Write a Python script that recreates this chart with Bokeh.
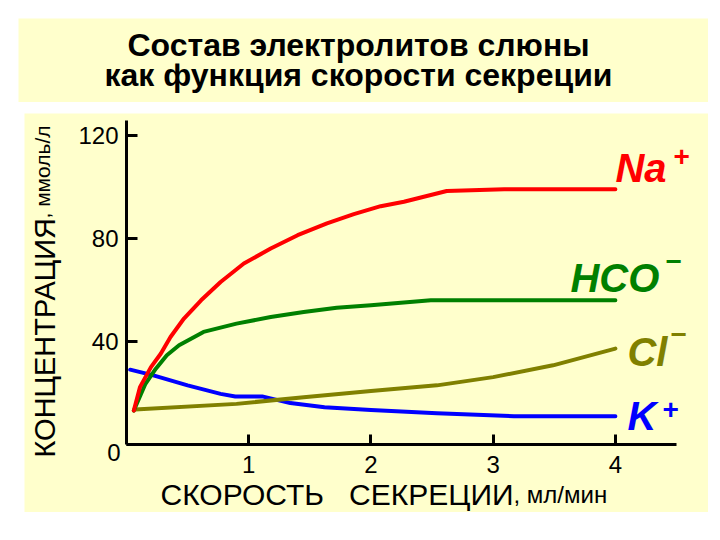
from math import pi
from bokeh.plotting import figure
from bokeh.models import Label, Range1d, FixedTicker, LinearAxis
from bokeh.layouts import column
from bokeh.embed import file_html
from bokeh.resources import INLINE

# ---- data ----
title_lines = ["Состав электролитов слюны", "как функция скорости секреции"]
y_label_main = "КОНЦЕНТРАЦИЯ"
y_label_unit = ", ммоль/л"
x_label_main = "СКОРОСТЬ\u00a0\u00a0\u00a0СЕКРЕЦИИ"
x_label_unit = ", мл/мин"
x_ticks = [1, 2, 3, 4]
y_ticks = [0, 40, 80, 120]

na_x = [0.06, 0.11, 0.20, 0.28, 0.36, 0.47, 0.61, 0.77, 0.96, 1.18, 1.40, 1.64, 1.86, 2.08, 2.27, 2.62, 3.09, 4.0]
na_y = [13.2, 22.3, 30.1, 35.3, 41.8, 49.0, 56.1, 63.2, 70.4, 76.2, 81.4, 86.0, 89.6, 92.7, 94.4, 98.6, 99.3, 99.3]

hco_x = [0.06, 0.155, 0.24, 0.33, 0.43, 0.63, 0.90, 1.18, 1.45, 1.72, 2.0, 2.49, 4.0]
hco_y = [13.2, 23.6, 29.5, 34.7, 38.6, 43.8, 47.0, 49.6, 51.5, 53.2, 54.2, 56.1, 56.1]

cl_x = [0.07, 0.90, 1.45, 2.0, 2.54, 3.0, 3.49, 4.0]
cl_y = [13.6, 15.8, 18.4, 20.8, 23.0, 26.2, 30.8, 37.3]

k_x = [0.03, 0.22, 0.50, 0.77, 0.89, 1.11, 1.34, 1.62, 2.0, 2.54, 3.17, 4.0]
k_y = [29.1, 26.9, 23.0, 19.7, 18.7, 18.7, 16.1, 14.5, 13.4, 12.2, 11.0, 11.0]

ion_names = ["Na", "HCO", "Cl", "K"]
ion_charges = ["+", "\u2212", "\u2212", "+"]

# ---- styles ----
YELLOW = "#FFFFCC"
FONT = "Liberation Sans"
colors = {"Na": "#FF0000", "HCO": "#008000", "Cl": "#808000", "K": "#0000FF"}
# label offsets (px) relative to the last point of each curve: (name dx, dy, charge dx, dy)
label_offsets = {
    "Na": (0, 21, 58, 33),
    "HCO": (-45, 22, 50, 39),
    "Cl": (12, -3, 55, 14),
    "K": (12, 0, 47, 7),
}

# ---- title panel ----
t = figure(width=690, height=84, x_range=Range1d(0, 690), y_range=Range1d(0, 84),
           x_axis_type=None, y_axis_type=None, toolbar_location=None,
           output_backend="svg", title=None, min_border=0,
           background_fill_color=YELLOW, border_fill_color=YELLOW,
           outline_line_color=None, margin=(18, 0, 0, 18))
for line, yy in zip(title_lines, [58, 28]):
    t.add_layout(Label(x=340, y=yy, text=line, text_align="center",
                       text_baseline="alphabetic", text_font=FONT,
                       text_font_style="bold", text_font_size="32px",
                       text_color="black"))

# ---- chart: frame covers the whole yellow box, axes fixed at the origin ----
p = figure(width=684, height=399, x_range=Range1d(-0.8346, 4.7619),
           y_range=Range1d(-26.45, 128.74),
           x_axis_location=None, y_axis_location=None,
           toolbar_location=None, output_backend="svg", title=None, min_border=0,
           background_fill_color=YELLOW, border_fill_color=YELLOW,
           outline_line_color=None, margin=(11, 0, 0, 24))
p.grid.visible = False

xax = LinearAxis(fixed_location=0, bounds=(0, 4.5), ticker=FixedTicker(ticks=x_ticks))
yax = LinearAxis(fixed_location=0, bounds=(0, 126), ticker=FixedTicker(ticks=y_ticks))
for ax in (xax, yax):
    ax.axis_line_width = 3
    ax.axis_line_color = "black"
    ax.major_tick_line_width = 3
    ax.major_tick_line_color = "black"
    ax.major_tick_out = 0
    ax.minor_tick_line_color = None
    ax.major_label_text_font = FONT
    ax.major_label_text_font_size = "24px"
    ax.major_label_text_color = "black"
xax.major_tick_in = 10
xax.major_label_standoff = 12
yax.major_tick_in = 11
yax.major_label_standoff = 8
yax.major_label_overrides = {0: ""}
p.add_layout(xax, "below")
p.add_layout(yax, "left")

series = [("K", k_x, k_y), ("Cl", cl_x, cl_y), ("HCO", hco_x, hco_y), ("Na", na_x, na_y)]
for name, xs, ys in series:
    p.line(xs, ys, line_color=colors[name], line_width=4, line_join="round", line_cap="round")

last = {name: (xs[-1], ys[-1]) for name, xs, ys in series}
for name, charge in zip(ion_names, ion_charges):
    lx, ly = last[name]
    dx, dy, cdx, cdy = label_offsets[name]
    p.add_layout(Label(x=lx, y=ly, x_offset=dx, y_offset=dy, text=name,
                       text_font=FONT, text_font_style="bold italic",
                       text_font_size="40px", text_color=colors[name],
                       text_align="left", text_baseline="alphabetic"))
    p.add_layout(Label(x=lx, y=ly, x_offset=cdx, y_offset=cdy, text=charge,
                       text_font=FONT, text_font_style="bold",
                       text_font_size="28px", text_color=colors[name],
                       text_align="left", text_baseline="alphabetic"))

# origin "0" label shared by both axes
p.add_layout(Label(x=0, y=0, x_offset=-6, y_offset=-8, text="0", text_font=FONT,
                   text_font_size="24px", text_color="black", text_align="right",
                   text_baseline="alphabetic"))

# axis titles
p.add_layout(Label(x=0, y=0, x_offset=-82, y_offset=-13, angle=pi / 2, text=y_label_main,
                   text_font=FONT, text_font_size="29px", text_color="black",
                   text_align="left", text_baseline="alphabetic"))
p.add_layout(Label(x=0, y=0, x_offset=-84, y_offset=226, angle=pi / 2, text=y_label_unit,
                   text_font=FONT, text_font_size="21px", text_color="black",
                   text_align="left", text_baseline="alphabetic"))
p.add_layout(Label(x=0, y=0, x_offset=34, y_offset=-50, text=x_label_main,
                   text_font=FONT, text_font_size="30px", text_color="black",
                   text_align="left", text_baseline="alphabetic"))
p.add_layout(Label(x=0, y=0, x_offset=387, y_offset=-50, text=x_label_unit,
                   text_font=FONT, text_font_size="24px", text_color="black",
                   text_align="left", text_baseline="alphabetic"))

layout = column(t, p)
open("out.html", "w").write(file_html(layout, INLINE))
